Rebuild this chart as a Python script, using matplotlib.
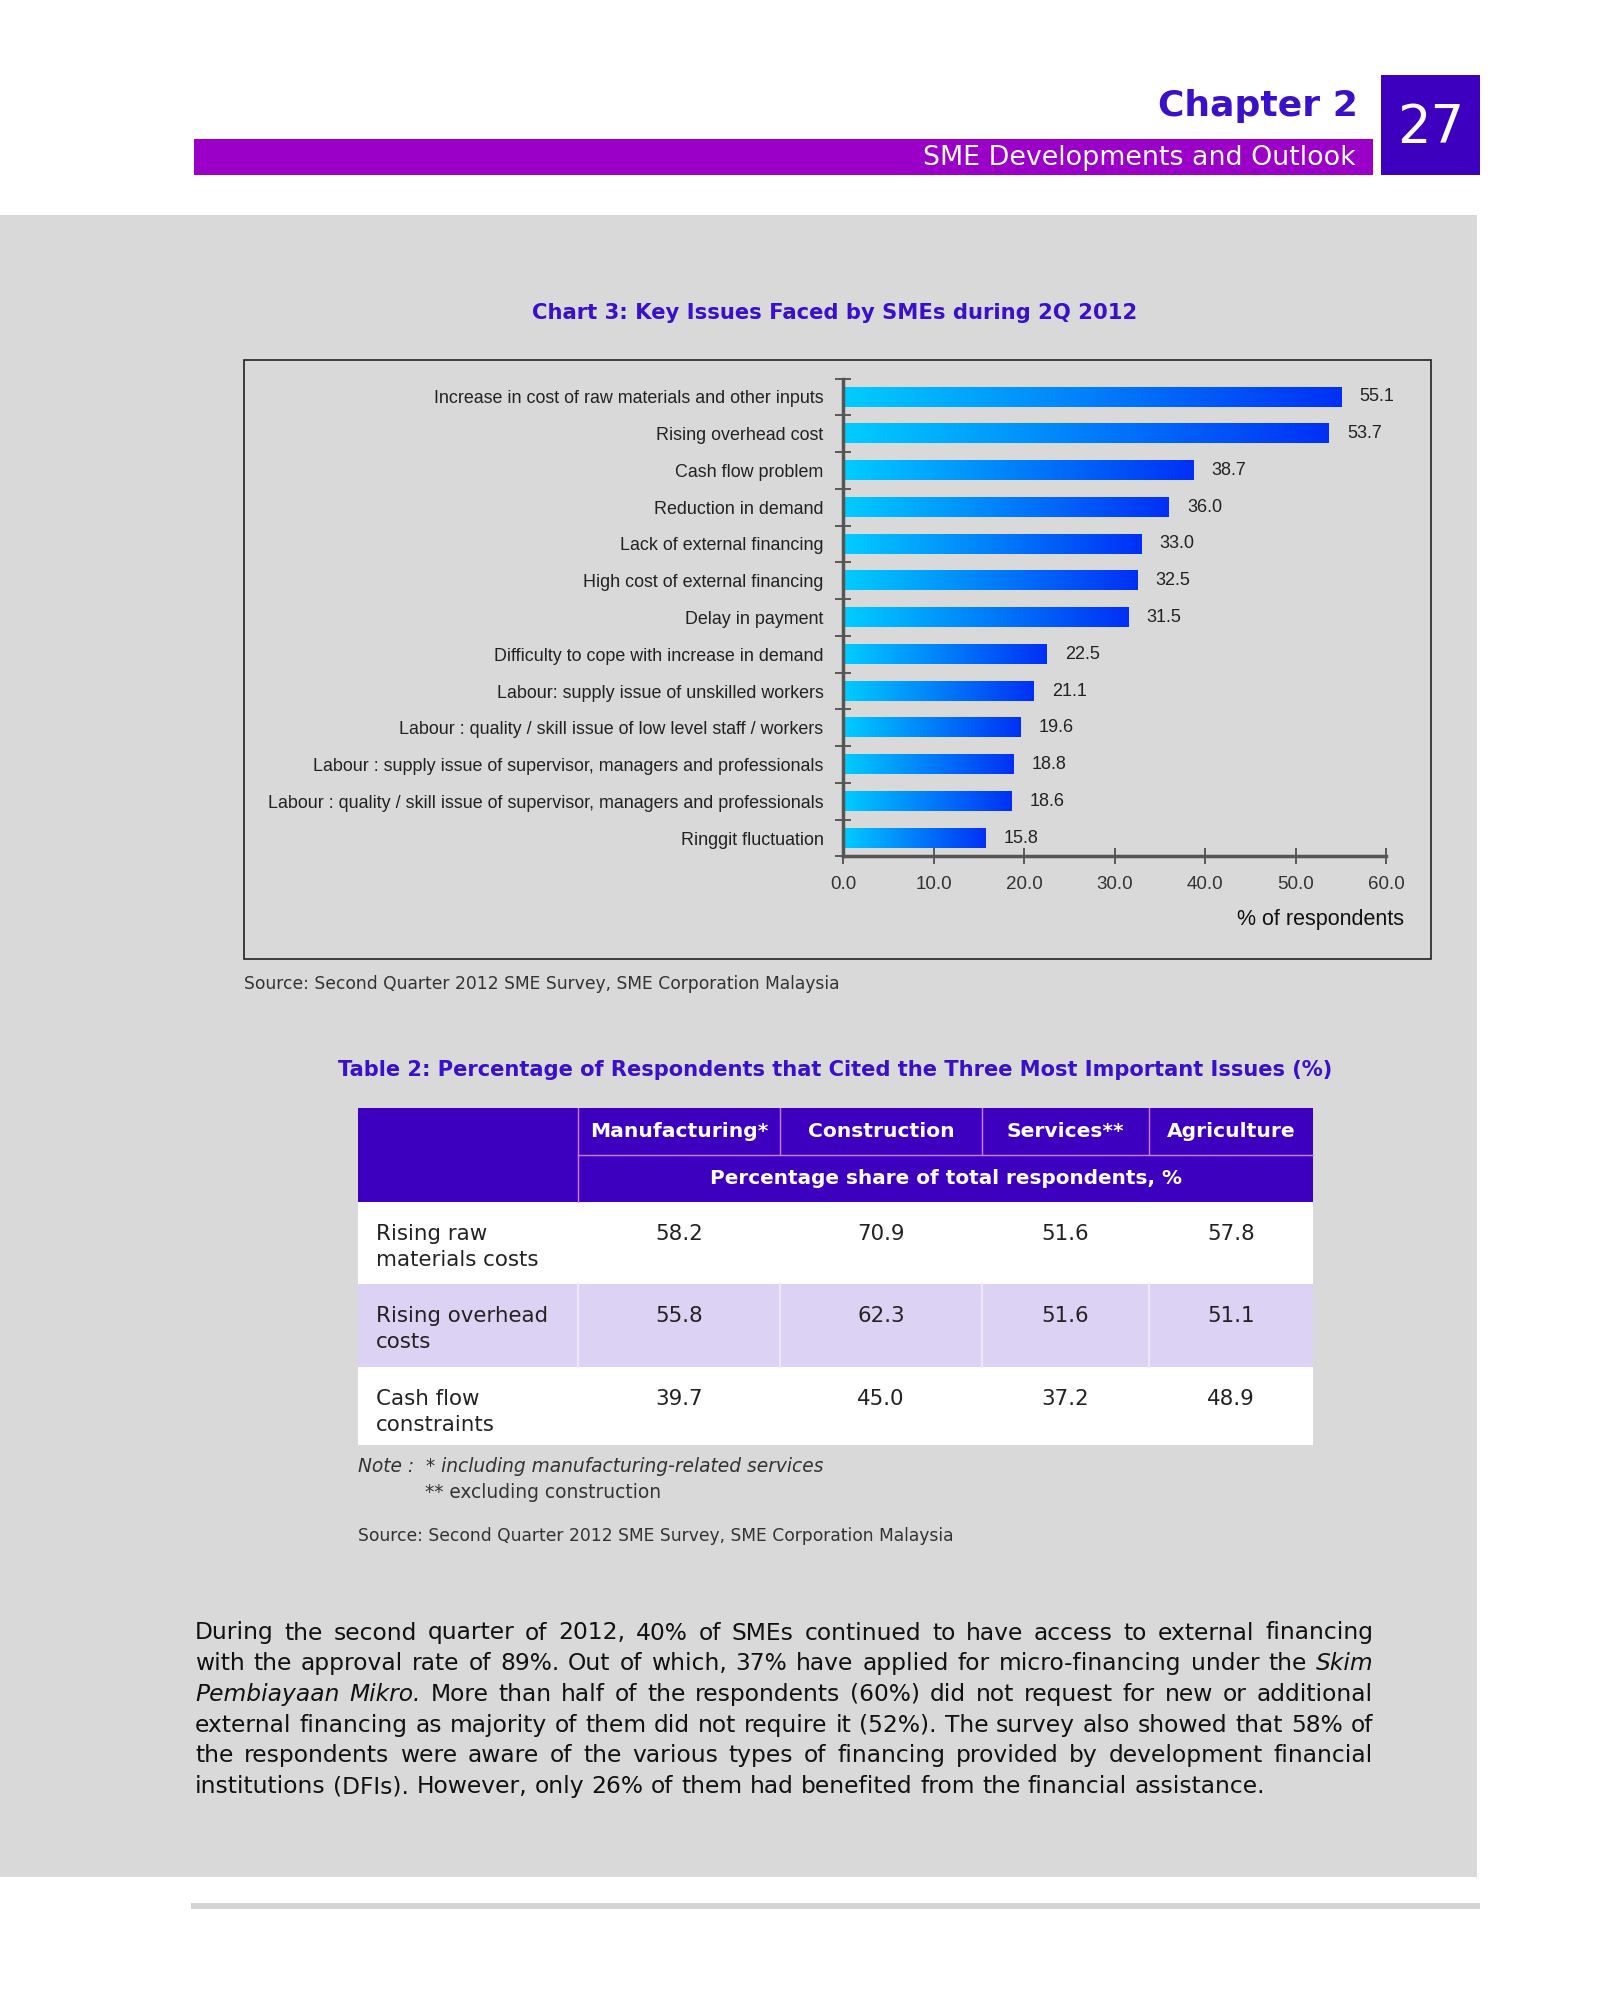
import numpy as np
import matplotlib
matplotlib.use('Agg')
import matplotlib.pyplot as plt
from matplotlib.patches import Rectangle
from matplotlib.colors import LinearSegmentedColormap

# =============== DATA ===============
issues = [
    'Increase in cost of raw materials and other inputs',
    'Rising overhead cost',
    'Cash flow problem',
    'Reduction in demand',
    'Lack of external financing',
    'High cost of external financing',
    'Delay in payment',
    'Difficulty to cope with increase in demand',
    'Labour: supply issue of unskilled workers',
    'Labour : quality / skill issue of low level staff / workers',
    'Labour : supply issue of supervisor, managers and professionals',
    'Labour : quality / skill issue of supervisor, managers and professionals',
    'Ringgit fluctuation',
]
pct = [55.1, 53.7, 38.7, 36.0, 33.0, 32.5, 31.5, 22.5, 21.1, 19.6, 18.8, 18.6, 15.8]
x_ticks = [0, 10, 20, 30, 40, 50, 60]

sectors = ['Manufacturing*', 'Construction', 'Services**', 'Agriculture']
table_issues = ['Rising raw\nmaterials costs', 'Rising overhead\ncosts', 'Cash flow\nconstraints']
manufacturing = [58.2, 55.8, 39.7]
construction = [70.9, 62.3, 45.0]
services = [51.6, 51.6, 37.2]
agriculture = [57.8, 51.1, 48.9]

paragraph = [
    'During the second quarter of 2012, 40% of SMEs continued to have access to external financing',
    'with the approval rate of 89%. Out of which, 37% have applied for micro-financing under the _Skim',
    '_Pembiayaan _Mikro. More than half of the respondents (60%) did not request for new or additional',
    'external financing as majority of them did not require it (52%). The survey also showed that 58% of',
    'the respondents were aware of the various types of financing provided by development financial',
    'institutions (DFIs). However, only 26% of them had benefited from the financial assistance.',
]

# =============== STYLE ===============
W, H = 1599, 2000
GRAY = '#d9d9d9'
TITLE_C = '#3a10c8'
HEAD_C = '#3d00be'
BAR_C = '#9b00c8'
SHADE_C = '#dcd2f3'
LINE_C = '#d27cff'
SANS = 'DejaVu Sans'
ARIAL = 'Liberation Sans'

fig = plt.figure(figsize=(W / 100, H / 100), dpi=100)
fig.patch.set_facecolor('white')

# page layer in pixel coords
page = fig.add_axes([0, 0, 1, 1])
page.set_xlim(0, W)
page.set_ylim(H, 0)
page.axis('off')

def box(x0, y0, x1, y1):
    return [x0 / W, 1 - y1 / H, (x1 - x0) / W, (y1 - y0) / H]

# header
page.add_patch(Rectangle((194, 139), 1179, 36, color=BAR_C, lw=0))
page.add_patch(Rectangle((1381, 75), 99, 100, color=HEAD_C, lw=0))
page.text(1358, 106, 'Chapter 2', ha='right', va='center', fontsize=26,
          fontweight='bold', color=TITLE_C, family=SANS)
page.text(1356, 158, 'SME Developments and Outlook', ha='right', va='center',
          fontsize=19.4, color='white', family=SANS)
page.text(1431, 128, '27', ha='center', va='center', fontsize=38,
          color='white', family=SANS)

# gray body
page.add_patch(Rectangle((0, 215), 1477, 1662, color=GRAY, lw=0, zorder=0))
page.add_patch(Rectangle((191, 1903), 1289, 6, color='#d4d4d4', lw=0))

# chart title + frame
page.text(835, 313, 'Chart 3: Key Issues Faced by SMEs during 2Q 2012', ha='center',
          va='center', fontsize=15.2, fontweight='bold', color=TITLE_C, family=SANS)
page.add_patch(Rectangle((244, 360), 1187, 599, fill=False, ec='#222222', lw=1.2))
page.text(244, 984, 'Source: Second Quarter 2012 SME Survey, SME Corporation Malaysia',
          ha='left', va='center', fontsize=12.3, color='#333333', family=SANS)

# =============== BAR CHART ===============
ax = fig.add_axes(box(843, 378.6, 1386, 856.4))
ax.patch.set_alpha(0)
n = len(issues)
cmap = LinearSegmentedColormap.from_list('grad', ['#00cdff', '#0030f5'])
grad = np.linspace(0, 1, 256).reshape(1, -1)
h = 0.52
for i, v in enumerate(pct):
    ax.imshow(grad, cmap=cmap, extent=(0, v, i + h / 2, i - h / 2),
              aspect='auto', interpolation='bilinear', zorder=2)
    ax.text(v + 2.0, i, f'{v:.1f}', va='center', ha='left', fontsize=13,
            color='#222222', family=ARIAL)

ax.set_xlim(0, 60)
ax.set_ylim(n - 0.5, -0.5)
ax.set_xticks(x_ticks, labels=[f'{t:.1f}' for t in x_ticks])
ax.set_yticks(np.arange(-0.5, n, 1), labels=[])
ax.set_yticks(range(n), labels=issues, minor=True)
for s in ['top', 'right']:
    ax.spines[s].set_visible(False)
for s in ['left', 'bottom']:
    ax.spines[s].set_color('#555555')
    ax.spines[s].set_linewidth(2.5)
ax.tick_params(axis='y', which='major', direction='inout', length=11, width=1.2, color='#444444')
ax.tick_params(axis='y', which='minor', length=0, pad=14, labelsize=12.9, labelcolor='#222222')
ax.tick_params(axis='x', direction='inout', length=12, width=1.2, color='#444444',
               pad=8, labelsize=13.5, labelcolor='#333333')
for lab in ax.get_xticklabels() + ax.get_yticklabels(minor=True):
    lab.set_family(ARIAL)
page.text(1404, 919, '% of respondents', ha='right', va='center', fontsize=15.5,
          color='#111111', family=ARIAL)

# =============== TABLE ===============
page.text(835, 1070, 'Table 2: Percentage of Respondents that Cited the Three Most Important Issues (%)',
          ha='center', va='center', fontsize=15.1, fontweight='bold', color=TITLE_C, family=SANS)
col_edges = [358, 578, 780, 982, 1149, 1313]
row_edges = [1108, 1155, 1202, 1284, 1367, 1445]
x0, x1 = col_edges[0], col_edges[-1]
page.add_patch(Rectangle((x0, row_edges[0]), x1 - x0, row_edges[2] - row_edges[0], color=HEAD_C, lw=0))
page.plot([col_edges[1]] * 2, [row_edges[0], row_edges[2]], color=LINE_C, lw=1)
for c in col_edges[2:-1]:
    page.plot([c, c], [row_edges[0], row_edges[1]], color=LINE_C, lw=1)
page.plot([col_edges[1], x1], [row_edges[1]] * 2, color=LINE_C, lw=1)
for j, name in enumerate(sectors):
    page.text((col_edges[j + 1] + col_edges[j + 2]) / 2, (row_edges[0] + row_edges[1]) / 2, name,
              ha='center', va='center', fontsize=14.6, fontweight='bold', color='white', family=SANS)
page.text((col_edges[1] + x1) / 2, (row_edges[1] + row_edges[2]) / 2,
          'Percentage share of total respondents, %', ha='center', va='center',
          fontsize=14.4, fontweight='bold', color='white', family=SANS)

cols = [manufacturing, construction, services, agriculture]
for r, label in enumerate(table_issues):
    top, bot = row_edges[r + 2], row_edges[r + 3]
    page.add_patch(Rectangle((x0, top), x1 - x0, bot - top,
                             color=SHADE_C if r == 1 else 'white', lw=0))
    if r == 1:
        for c in col_edges[1:-1]:
            page.plot([c, c], [top, bot], color='#ece6fa', lw=1.5)
    page.text(376, top + 22, label, ha='left', va='top', fontsize=15.4,
              color='#222222', family=SANS, linespacing=1.4)
    for j, vals in enumerate(cols):
        page.text((col_edges[j + 1] + col_edges[j + 2]) / 2, top + 22, f'{vals[r]:.1f}',
                  ha='center', va='top', fontsize=15.4, color='#222222', family=SANS)

page.text(358, 1467, 'Note :  * including manufacturing-related services', ha='left', va='center',
          fontsize=13.4, style='italic', color='#333333', family=SANS)
page.text(425, 1493, '** excluding construction', ha='left', va='center',
          fontsize=13.4, color='#333333', family=SANS)
page.text(358, 1536, 'Source: Second Quarter 2012 SME Survey, SME Corporation Malaysia',
          ha='left', va='center', fontsize=12.3, color='#333333', family=SANS)

# =============== PARAGRAPH (justified) ===============
renderer = fig.canvas.get_renderer()
left, right = 195, 1373
y = 1633
for k, line in enumerate(paragraph):
    words = line.split(' ')
    texts = []
    for w in words:
        italic = w.startswith('_')
        t = page.text(0, y, w.lstrip('_'), ha='left', va='center', fontsize=16.8,
                      color='#111111', family=SANS, style='italic' if italic else 'normal')
        texts.append(t)
    widths = [t.get_window_extent(renderer).width for t in texts]
    if k < len(paragraph) - 1:
        gap = (right - left - sum(widths)) / (len(words) - 1)
    else:
        gap = texts[0].get_fontsize() * 100 / 72 * 0.32
    x = left
    for t, wd in zip(texts, widths):
        t.set_x(x)
        x += wd + gap
    y += 30.7

fig.savefig('out.png', dpi=100, facecolor='white')
